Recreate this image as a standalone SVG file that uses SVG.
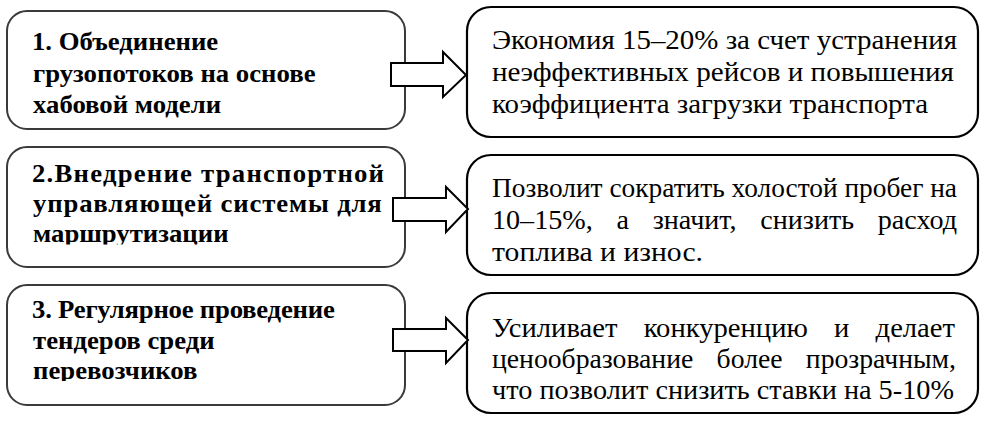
<svg xmlns="http://www.w3.org/2000/svg" width="985" height="422" viewBox="0 0 985 422">
<style>
.lbox{fill:#fff;stroke:#3a3a3a;stroke-width:2}
.rbox{fill:#fff;stroke:#000;stroke-width:2.2}
.lt{font-family:"Liberation Serif","Times New Roman",serif;font-weight:bold;font-size:25px;fill:#000}
.rt{font-family:"Liberation Serif","Times New Roman",serif;font-size:27px;fill:#000}
.arrow{fill:#fff;stroke:#000;stroke-width:2}
</style>
<defs>
<clipPath id="clip2"><rect x="0" y="140" width="420" height="104.5"/></clipPath>
<clipPath id="clip3"><rect x="0" y="280" width="420" height="101"/></clipPath>
</defs>
<rect width="985" height="422" fill="#fff"/>
<g id="left1">
<rect class="lbox" x="7" y="11" width="398" height="118" rx="20"/>
<text class="lt" transform="translate(32,50) scale(1.07,1)">1. Объединение</text>
<text class="lt" transform="translate(33,82) scale(1.07,1)">грузопотоков на основе</text>
<text class="lt" transform="translate(33,113) scale(1.07,1)">хабовой модели</text>
</g>
<g id="left2">
<rect class="lbox" x="7" y="147" width="398" height="120" rx="20"/>
<g clip-path="url(#clip2)">
<text class="lt" transform="translate(32,182) scale(1.07,1)" textLength="329" lengthAdjust="spacing">2.Внедрение транспортной</text>
<text class="lt" transform="translate(33,212) scale(1.07,1)" textLength="326" lengthAdjust="spacing">управляющей системы для</text>
<text class="lt" transform="translate(33,242) scale(1.07,1)">маршрутизации</text>
</g>
</g>
<g id="left3">
<rect class="lbox" x="7" y="285" width="398" height="120" rx="20"/>
<g clip-path="url(#clip3)">
<text class="lt" transform="translate(32,318) scale(1.07,1)" textLength="283" lengthAdjust="spacing">3. Регулярное проведение</text>
<text class="lt" transform="translate(33,349) scale(1.07,1)">тендеров среди</text>
<text class="lt" transform="translate(33,379) scale(1.07,1)">перевозчиков</text>
</g>
</g>
<g id="right1">
<rect class="rbox" x="467" y="7" width="511" height="130" rx="24"/>
<text class="rt" x="492" y="49" textLength="465" lengthAdjust="spacingAndGlyphs">Экономия 15–20% за счет устранения</text>
<text class="rt" x="492" y="81" textLength="462" lengthAdjust="spacingAndGlyphs">неэффективных рейсов и повышения</text>
<text class="rt" x="492" y="113" textLength="436" lengthAdjust="spacingAndGlyphs">коэффициента загрузки транспорта</text>
</g>
<g id="right2">
<rect class="rbox" x="467" y="155" width="511" height="120" rx="24"/>
<text class="rt" x="492" y="197" textLength="465" lengthAdjust="spacingAndGlyphs">Позволит сократить холостой пробег на</text>
<text class="rt" x="492" y="229" word-spacing="16" textLength="465" lengthAdjust="spacingAndGlyphs">10–15%, а значит, снизить расход</text>
<text class="rt" x="492" y="261" textLength="211" lengthAdjust="spacingAndGlyphs">топлива и износ.</text>
</g>
<g id="right3">
<rect class="rbox" x="467" y="293" width="511" height="120" rx="24"/>
<text class="rt" x="492" y="337" word-spacing="18" textLength="463" lengthAdjust="spacingAndGlyphs">Усиливает конкуренцию и делает</text>
<text class="rt" x="492" y="368" word-spacing="16" textLength="464" lengthAdjust="spacingAndGlyphs">ценообразование более прозрачным,</text>
<text class="rt" x="492" y="399" textLength="462" lengthAdjust="spacingAndGlyphs">что позволит снизить ставки на 5-10%</text>
</g>
<g id="connectors">
<polygon class="arrow" points="391,63 443,63 443,52 466,75 443,97 443,86 391,86"/>
<polygon class="arrow" points="393,198 446,198 446,187 468,209 446,232 446,221 393,221"/>
<polygon class="arrow" points="393,329 446,329 446,318 468,340 446,363 446,351 393,351"/>
</g>
</svg>
